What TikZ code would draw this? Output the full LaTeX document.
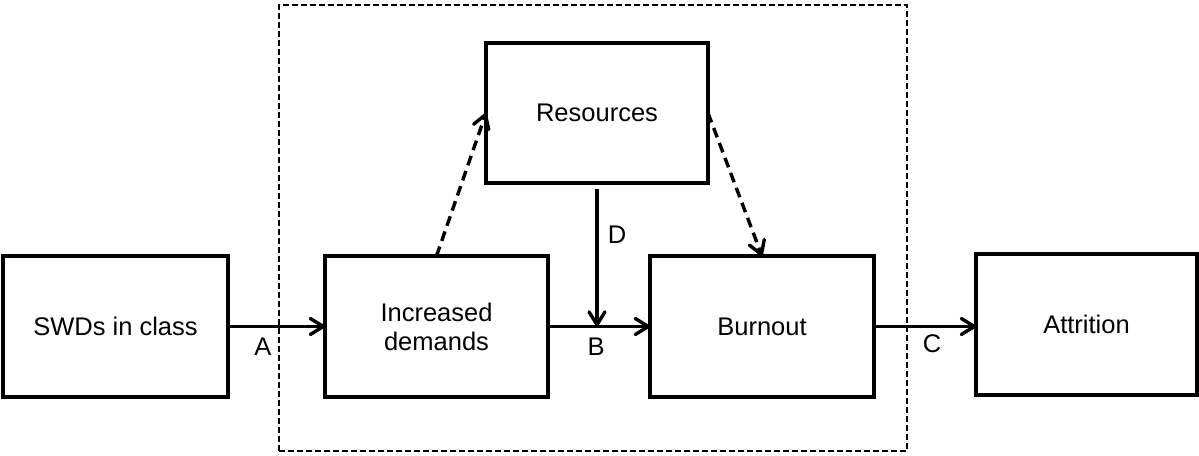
\documentclass[tikz,border=0pt]{standalone}
\usepackage{fontspec}
\setmainfont{Liberation Sans}
\usetikzlibrary{arrows.meta}
\begin{document}
\begin{tikzpicture}[x=1pt,y=-1pt,
  box/.style={draw,line width=3.6pt,minimum height=141pt,inner sep=0pt,outer sep=0pt,align=center,
    font=\fontsize{25.5}{29}\selectfont},
  frame/.style={draw,line width=1.6pt,dash pattern=on 6pt off 3pt,minimum width=628pt,minimum height=446pt,inner sep=0pt,outer sep=0pt},
  arr/.style={line width=3.4pt,-{Straight Barb[length=13pt,width=16pt,line cap=round,line join=round]}},
  darr/.style={arr,dash pattern=on 10pt off 6pt},
  lab/.style={font=\fontsize{25.5}{29}\selectfont,inner sep=0pt}]
\useasboundingbox (0,0) rectangle (1199,455);
\node[frame] (fr) at (593,228) {};
\node[box,minimum width=225pt] (swd) at (115.5,326.5) {SWDs in class};
\node[box,minimum width=223pt] (inc) at (436.5,326.5) {Increased\\demands};
\node[box,minimum width=224pt] (bur) at (762,326.5) {Burnout};
\node[box,minimum width=221pt] (att) at (1086.5,324.5) {Attrition};
\node[box,minimum width=222pt,minimum height=140pt] (res) at (597,113) {Resources};
\draw[arr] (swd.east) -- (inc.west);
\draw[arr] (inc.east) -- (bur.west);
\draw[arr] (bur.east) -- (bur.east -| att.west);
\draw[arr] ([yshift=-6pt]res.south) -- (res.south |- inc.east);
\draw[darr] (inc.north) -- (res.west);
\draw[darr] (res.east) -- (bur.north);
\node[lab] (la) at (263,347) {A};
\node[lab] (lb) at (596,347) {B};
\node[lab] (lc) at (932,344) {C};
\node[lab] (ld) at (617,235) {D};
\end{tikzpicture}
\end{document}
